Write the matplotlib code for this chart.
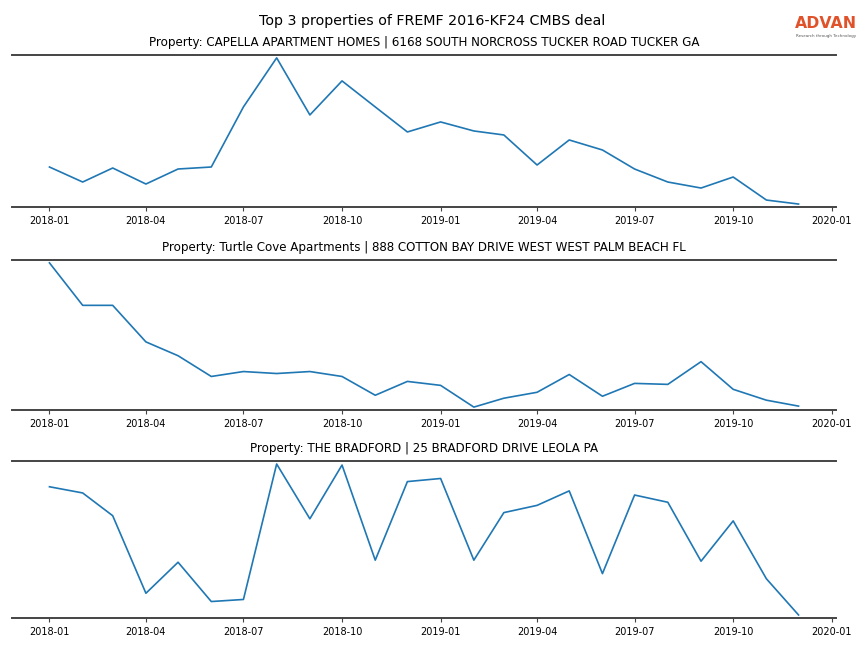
import matplotlib

matplotlib.use("Agg")
import matplotlib.pyplot as plt
import matplotlib.dates as mdates
import pandas as pd

# monthly series, values in arbitrary units (no y axis shown)
months = pd.date_range("2018-01-01", periods=24, freq="MS")

titles = [
    "Property: CAPELLA APARTMENT HOMES | 6168 SOUTH NORCROSS TUCKER ROAD TUCKER GA",
    "Property: Turtle Cove Apartments | 888 COTTON BAY DRIVE WEST WEST PALM BEACH FL",
    "Property: THE BRADFORD | 25 BRADFORD DRIVE LEOLA PA",
]

capella = [39, 24, 38, 22, 37, 39, 99, 148, 91, 125, 99, 74,
           84, 75, 71, 41, 66, 56, 37, 24, 18, 29, 6, 2]
turtle = [147, 104, 104, 67, 53, 32, 37, 35, 37, 32, 13, 27,
          23, 1, 10, 16, 34, 12, 25, 24, 47, 19, 8, 2]
bradford = [129, 123, 101, 26, 56, 18, 20, 151, 98, 150, 58, 134,
            137, 58, 104, 111, 125, 45, 121, 114, 57, 96, 40, 5]

series = [capella, turtle, bradford]

fig = plt.figure(figsize=(8.64, 6.48), dpi=100)

boxes = [
    (0.0139, 0.6806, 0.9537, 0.2346),
    (0.0139, 0.3673, 0.9537, 0.2315),
    (0.0139, 0.0463, 0.9537, 0.2423),
]

for box, title, vals in zip(boxes, titles, series):
    ax = fig.add_axes(box)
    ax.plot(months, vals, color="#1f77b4", linewidth=1.2)
    ax.margins(x=0.05, y=0.02)
    ax.set_title(title, fontsize=8.6, pad=6.5)
    ax.set_yticks([])
    for side in ("left", "right"):
        ax.spines[side].set_visible(False)
    for side in ("top", "bottom"):
        ax.spines[side].set_color("#444444")
        ax.spines[side].set_linewidth(1.4)
    ax.xaxis.set_major_locator(mdates.MonthLocator(bymonth=[1, 4, 7, 10]))
    ax.xaxis.set_major_formatter(mdates.DateFormatter("%Y-%m"))
    ax.tick_params(axis="x", labelsize=7, length=3, width=0.8, color="#444444")

fig.suptitle("Top 3 properties of FREMF 2016-KF24 CMBS deal", fontsize=10.3, y=0.978)

# logo
fig.text(0.9565, 0.9645, "ADVAN", color="#e0522a", fontsize=11.3,
         fontweight="bold", ha="center", va="center")
fig.text(0.9565, 0.9445, "Research through Technology", color="#555555",
         fontsize=2.9, ha="center", va="center")

fig.savefig("out.png", dpi=100)
